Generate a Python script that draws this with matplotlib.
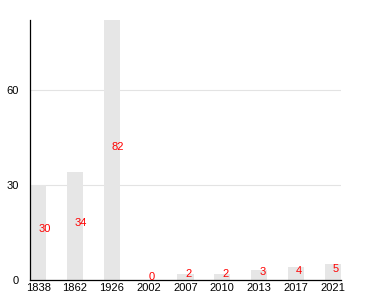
import matplotlib.pyplot as plt

years = ['1838', '1862', '1926', '2002', '2007', '2010', '2013', '2017', '2021']
values = [30, 34, 82, 0, 2, 2, 3, 4, 5]
yticks = [0, 30, 60]

plt.rcParams['font.family'] = ['Liberation Sans', 'DejaVu Sans']

fig = plt.figure(figsize=(3.8, 3.0), dpi=100)
ax = fig.add_axes([0.079, 0.067, 0.818, 0.866])

w = 0.44
x = list(range(len(years)))
ax.bar(x, values, width=w, color='#e6e6e6', zorder=2)

# value labels sit at half bar height
for i, v in zip(x, values):
    ax.text(i, v / 2, str(v), color='red', fontsize=8, ha='left', va='baseline', zorder=3)

ax.set_xlim(-w / 2, len(years) - 1 + w / 2)
ax.set_ylim(0, 82)
ax.set_xticks(x)
ax.set_xticklabels(years)
ax.set_yticks(yticks)
ax.tick_params(axis='x', length=0, pad=2, labelsize=8)
ax.tick_params(axis='y', length=0, pad=8, labelsize=8)

ax.grid(axis='y', color='#e3e3e3', linewidth=0.8, zorder=1)
ax.set_axisbelow(True)
for s in ['top', 'right']:
    ax.spines[s].set_visible(False)
for s in ['left', 'bottom']:
    ax.spines[s].set_linewidth(0.9)

fig.savefig('out.png', dpi=100)
